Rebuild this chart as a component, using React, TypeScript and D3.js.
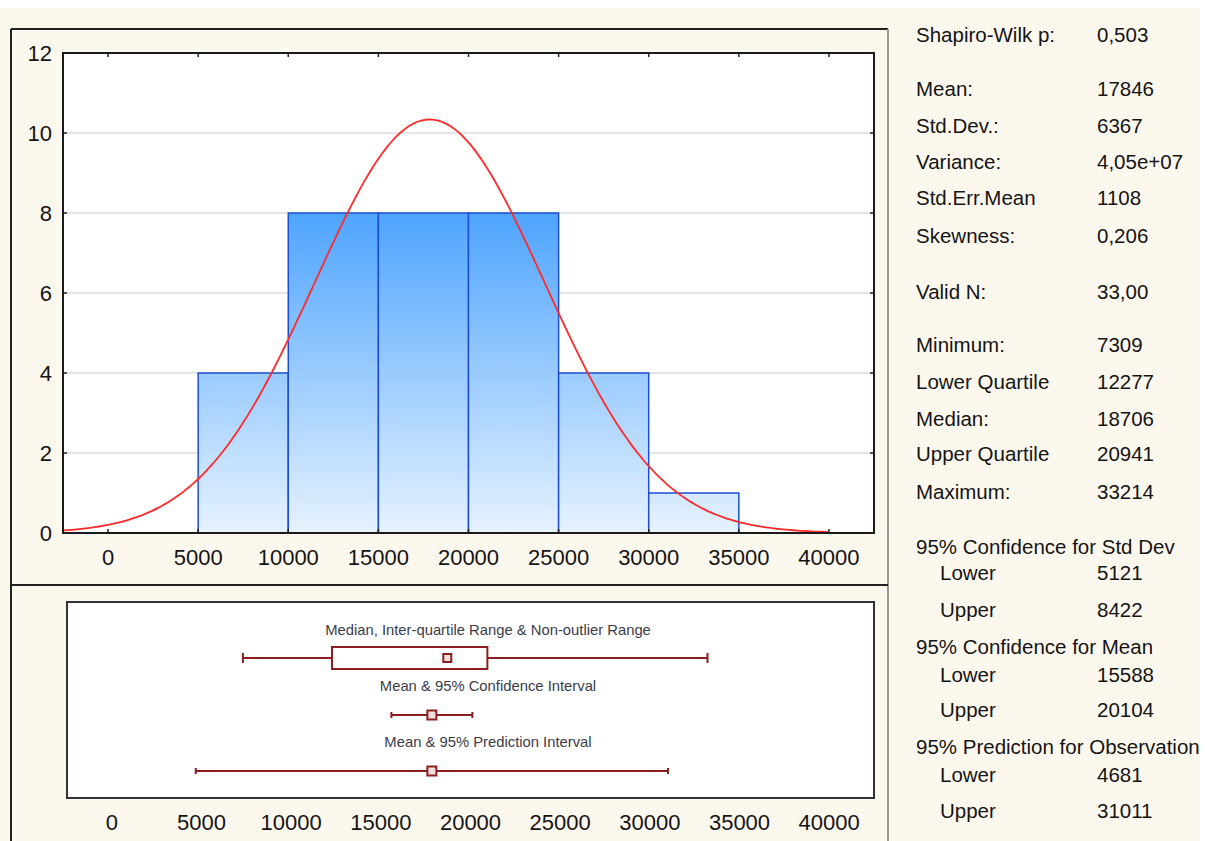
import React from 'react'
import { scaleLinear, line, curveMonotoneX, range } from 'd3'

// histogram bins (lower edges) and counts
const binStarts = [5000, 10000, 15000, 20000, 25000, 30000]
const binWidth = 5000
const binCounts = [4, 8, 8, 8, 4, 1]

const xTicks = [0, 5000, 10000, 15000, 20000, 25000, 30000, 35000, 40000]
const yTicks = [0, 2, 4, 6, 8, 10, 12]

// descriptive stats
const mean = 17846
const stdDev = 6367
const validN = 33
const minimum = 7309
const lowerQuartile = 12277
const median = 18706
const upperQuartile = 20941
const maximum = 33214
const meanCI = [15588, 20104]
const predInterval = [4681, 31011]

const statLabels = [
  'Shapiro-Wilk p:', 'Mean:', 'Std.Dev.:', 'Variance:', 'Std.Err.Mean', 'Skewness:',
  'Valid N:', 'Minimum:', 'Lower Quartile', 'Median:', 'Upper Quartile', 'Maximum:',
  '95% Confidence for Std Dev', 'Lower', 'Upper',
  '95% Confidence for Mean', 'Lower', 'Upper',
  '95% Prediction for Observation', 'Lower', 'Upper'
]
const statValues = [
  '0,503', '17846', '6367', '4,05e+07', '1108', '0,206',
  '33,00', '7309', '12277', '18706', '20941', '33214',
  '', '5121', '8422',
  '', '15588', '20104',
  '', '4681', '31011'
]

const boxRowTitles = [
  'Median, Inter-quartile Range & Non-outlier Range',
  'Mean & 95% Confidence Interval',
  'Mean & 95% Prediction Interval'
]

// layout of the stats panel (y centres of rows)
const rowY = [34, 88, 125, 161, 197, 235, 291, 344, 381, 418, 453, 491, 546, 572, 609, 646, 674, 709, 746, 774, 810]
const indented = [13, 14, 16, 17, 19, 20]

const FONT = '"Liberation Sans", Arial, sans-serif'
const DARK = '#8b1f1f'

const App = () => {
  const W = 1205
  const H = 841

  const plot = { left: 63, right: 874, top: 53, bottom: 533 }
  const x = scaleLinear().domain([-2500, 42500]).range([plot.left, plot.right])
  const y = scaleLinear().domain([0, 12]).range([plot.bottom, plot.top])

  const box = { left: 67, right: 874, top: 602, bottom: 798 }
  const xb = scaleLinear().domain([-2500, 42500]).range([box.left, box.right])

  // fitted normal curve, scaled to counts
  const scale = validN * binWidth / (stdDev * Math.sqrt(2 * Math.PI))
  const curvePts = range(-2500, 40001, 250).map(v => [v, scale * Math.exp(-0.5 * ((v - mean) / stdDev) ** 2)])
  const curvePath = line()
    .x(d => x(d[0]))
    .y(d => y(d[1]))
    .curve(curveMonotoneX)(curvePts)

  const row1 = 658
  const row2 = 715
  const row3 = 771
  const titleX = 488

  const marker = (cx, cy, s) => (
    <rect x={cx - s / 2} y={cy - s / 2} width={s} height={s} fill="#f3dede" stroke={DARK} strokeWidth={2} />
  )

  const whisker = (a, b, cy, cap) => (
    <g stroke={DARK} strokeWidth={2}>
      <line x1={xb(a)} x2={xb(b)} y1={cy} y2={cy} />
      <line x1={xb(a)} x2={xb(a)} y1={cy - cap} y2={cy + cap} />
      <line x1={xb(b)} x2={xb(b)} y1={cy - cap} y2={cy + cap} />
    </g>
  )

  return (
    <svg width={W} height={H} style={{ position: 'absolute', left: 0, top: 0 }} fontFamily={FONT}>
      <defs>
        <linearGradient id="barGrad" gradientUnits="userSpaceOnUse" x1={0} x2={0} y1={y(8)} y2={y(0)}>
          <stop offset="0%" stopColor="#4ea4ff" />
          <stop offset="100%" stopColor="#e6f2fe" />
        </linearGradient>
      </defs>
      <rect x={0} y={0} width={W} height={H} fill="#ffffff" />
      <rect x={0} y={8} width={1200} height={H - 8} fill="#fdf8ee" />

      {/* frame */}
      <line x1={11} x2={11} y1={29} y2={H} stroke="#222" strokeWidth={2} />
      <line x1={11} x2={888} y1={29} y2={29} stroke="#222" strokeWidth={2} />
      <line x1={888} x2={888} y1={29} y2={H} stroke="#999" strokeWidth={2} />
      <line x1={11} x2={888} y1={585} y2={585} stroke="#222" strokeWidth={2} />

      {/* histogram plot area */}
      <rect x={plot.left} y={plot.top} width={plot.right - plot.left} height={plot.bottom - plot.top} fill="#fff" />
      {yTicks.slice(1, -1).map(t => (
        <line key={'g' + t} x1={plot.left} x2={plot.right} y1={y(t)} y2={y(t)} stroke="#dcdcdc" strokeWidth={1.5} />
      ))}
      {binCounts.map((c, i) => (
        <rect
          key={'bar' + i}
          x={x(binStarts[i])}
          y={y(c)}
          width={x(binStarts[i] + binWidth) - x(binStarts[i])}
          height={y(0) - y(c)}
          fill="url(#barGrad)"
          stroke="#1c4fcf"
          strokeWidth={1.5}
        />
      ))}
      <path d={curvePath} fill="none" stroke="#ff2a2a" strokeWidth={1.8} />
      {xTicks.map(t => (
        <g key={'xt' + t} stroke="#222" strokeWidth={1.5}>
          <line x1={x(t)} x2={x(t)} y1={plot.top} y2={plot.top + 4} />
          <line x1={x(t)} x2={x(t)} y1={plot.bottom} y2={plot.bottom - 4} />
        </g>
      ))}
      {yTicks.map(t => (
        <g key={'yt' + t} stroke="#222" strokeWidth={1.5}>
          <line x1={plot.left} x2={plot.left + 4} y1={y(t)} y2={y(t)} />
          <line x1={plot.right} x2={plot.right - 4} y1={y(t)} y2={y(t)} />
        </g>
      ))}
      <rect x={plot.left} y={plot.top} width={plot.right - plot.left} height={plot.bottom - plot.top} fill="none" stroke="#1a1a1a" strokeWidth={2} />
      {yTicks.map(t => (
        <text key={'yl' + t} x={52} y={y(t)} textAnchor="end" dominantBaseline="central" fontSize={22} fill="#141414">{t}</text>
      ))}
      {xTicks.map(t => (
        <text key={'xl' + t} x={x(t)} y={557} textAnchor="middle" dominantBaseline="central" fontSize={22} fill="#141414">{t}</text>
      ))}

      {/* box plot panel */}
      <rect x={box.left} y={box.top} width={box.right - box.left} height={box.bottom - box.top} fill="#fff" stroke="#333" strokeWidth={2} />
      {boxRowTitles.map((t, i) => (
        <text key={'bt' + i} x={titleX} y={[630, 686, 742][i]} textAnchor="middle" dominantBaseline="central" fontSize={14.8} fill="#3c3c48">{t}</text>
      ))}
      {whisker(minimum, maximum, row1, 5)}
      <rect x={xb(lowerQuartile)} y={row1 - 11} width={xb(upperQuartile) - xb(lowerQuartile)} height={22} fill="#fff" stroke={DARK} strokeWidth={2} />
      {marker(xb(median), row1, 8)}
      {whisker(meanCI[0], meanCI[1], row2, 3)}
      {marker(xb(mean), row2, 9)}
      {whisker(predInterval[0], predInterval[1], row3, 3)}
      {marker(xb(mean), row3, 9)}
      {xTicks.map(t => (
        <text key={'bl' + t} x={xb(t)} y={822} textAnchor="middle" dominantBaseline="central" fontSize={22} fill="#141414">{t}</text>
      ))}

      {/* stats panel */}
      {statLabels.map((s, i) => (
        <g key={'s' + i}>
          <text x={indented.includes(i) ? 940 : 916} y={rowY[i]} dominantBaseline="central" fontSize={20.5} fill="#141414">{s}</text>
          {statValues[i] && (
            <text x={1097} y={rowY[i]} dominantBaseline="central" fontSize={20.5} fill="#141414">{statValues[i]}</text>
          )}
        </g>
      ))}
    </svg>
  )
}

export default App
